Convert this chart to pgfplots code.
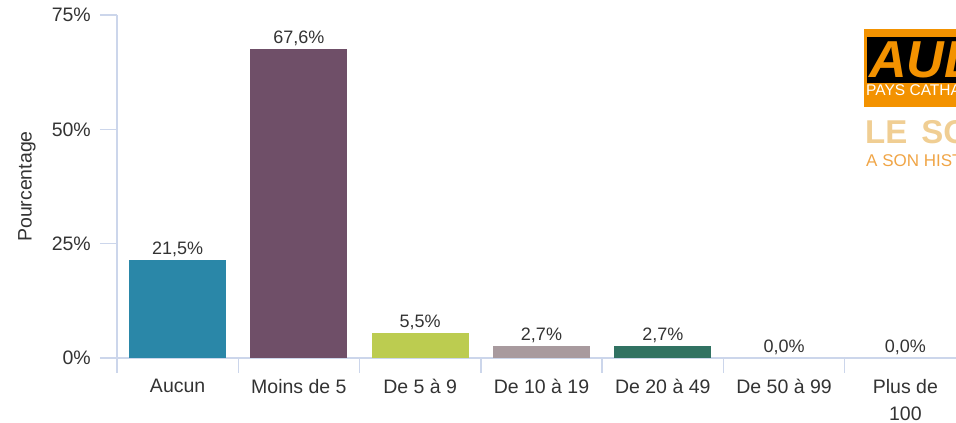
\documentclass[border=0pt]{standalone}
\usepackage{pgfplots}
\pgfplotsset{compat=1.18}
\usepackage{fontspec}
\setmainfont{Liberation Sans}
\definecolor{axisblue}{RGB}{204,214,235}
\definecolor{txt}{RGB}{51,51,51}
\definecolor{c1}{RGB}{42,135,168}
\definecolor{c2}{RGB}{111,79,104}
\definecolor{c3}{RGB}{188,204,80}
\definecolor{c4}{RGB}{168,154,158}
\definecolor{c5}{RGB}{49,114,98}
\definecolor{logoorange}{RGB}{243,146,0}
\definecolor{logotan}{RGB}{240,206,147}
\definecolor{logoorange2}{RGB}{240,165,70}
\begin{document}
\begin{tikzpicture}[x=1pt,y=1pt]
\path[use as bounding box] (0,0) rectangle (956,423);
\begin{axis}[
  at={(117pt,65pt)}, anchor=south west,
  scale only axis, width=849pt, height=343pt,
  xmin=-0.5, xmax=6.5, ymin=0, ymax=75,
  axis x line*=bottom, axis y line*=left,
  axis line style={axisblue, line width=1.5pt},
  ytick={0,25,50,75},
  yticklabels={0\%,25\%,50\%,75\%},
  ytick pos=left,
  tick align=outside,
  major tick length=17pt,
  major y tick style={axisblue, line width=1.5pt},
  xtick={0,...,6},
  xticklabels={Aucun,Moins de 5,De 5 à 9,De 10 à 19,De 20 à 49,De 50 à 99,{Plus de\\100}},
  major x tick style={draw=none},
  minor xtick={-0.5,0.5,...,6.5},
  minor tick length=15pt,
  minor x tick style={axisblue, line width=1.5pt},
  x tick label style={font=\fontsize{19.5}{27}\selectfont, text=txt, align=center, anchor=north, inner sep=0pt, yshift=-4pt},
  y tick label style={font=\fontsize{19.5}{23}\selectfont, text=txt, anchor=east, inner sep=0pt, xshift=-9pt},
  ylabel={Pourcentage},
  ylabel style={font=\fontsize{19.5}{23}\selectfont, text=txt, at={(axis description cs:-0.106,0.5)}, anchor=center},
  ybar, bar width=97pt,
  every axis plot/.append style={bar shift=0pt, draw=none},
  point meta=explicit symbolic,
  nodes near coords,
  nodes near coords style={font=\fontsize{18}{21}\selectfont, text=txt, anchor=base, inner sep=0pt, yshift=5pt},
  clip=false,
]
\addplot[fill=c1] coordinates {(0,21.5) [21,5\%]};
\addplot[fill=c2] coordinates {(1,67.6) [67,6\%]};
\addplot[fill=c3] coordinates {(2,5.5) [5,5\%]};
\addplot[fill=c4] coordinates {(3,2.7) [2,7\%]};
\addplot[fill=c5] coordinates {(4,2.7) [2,7\%]};
\addplot[fill=none] coordinates {(5,0) [0,0\%]};
\addplot[fill=none] coordinates {(6,0) [0,0\%]};
\end{axis}
% logo (partially cut at the right edge, as in the reference)
\fill[logoorange] (864,316) rectangle (970,394);
\fill[black] (867,340) rectangle (970,386);
\node[anchor=base west, inner sep=0pt, text depth=0pt, text=logoorange, font=\fontsize{52}{52}\selectfont\bfseries\itshape] at (869,345) {AUDE};
\node[anchor=base west, inner sep=0pt, text=white, font=\fontsize{15.5}{16}\selectfont] at (866,327) {PAYS CATHARE};
\node[anchor=base west, inner sep=0pt, text=logotan, font=\fontsize{33}{33}\selectfont\bfseries] at (865,279) {LE\hspace{14pt}SOUFFLE};
\node[anchor=base west, inner sep=0pt, text=logoorange2, font=\fontsize{17}{17}\selectfont] at (866,256) {A SON HISTOIRE};
\end{tikzpicture}
\end{document}
